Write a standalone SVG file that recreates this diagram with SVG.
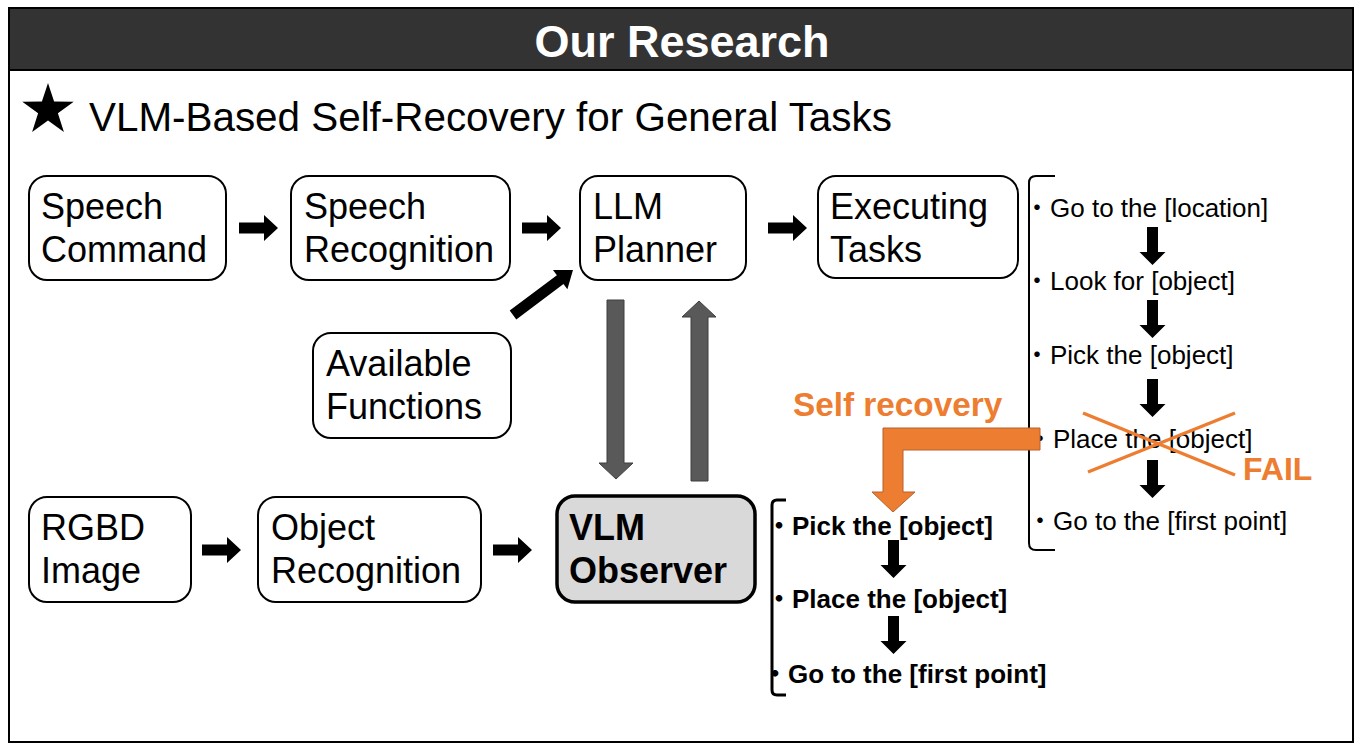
<svg xmlns="http://www.w3.org/2000/svg" width="1361" height="749" viewBox="0 0 1361 749">
<style>
text{font-family:"Liberation Sans",Arial,"Noto Sans CJK JP",sans-serif;fill:#000}
.box{fill:#fff;stroke:#000;stroke-width:2}
.lbl{font-size:36px}
.li{font-size:26px}
.lb{font-size:26px;font-weight:bold}
.org{fill:#ED7D31;font-weight:bold}
.gray{fill:#595959;stroke:#3f3f3f;stroke-width:1}
</style>
<defs>
<path id="harr" d="M0,-5.5 H25 V-13 L39,0 L25,13 V5.5 H0 Z" fill="#000"/>
<path id="varr" d="M-5.5,0 H5.5 V25 H13 L0,38 L-13,25 H-5.5 Z" fill="#000"/>
</defs>
<rect x="0" y="0" width="1361" height="749" fill="#fff"/>
<g id="frame">
<rect x="9" y="8" width="1344" height="734" fill="#fff" stroke="#000" stroke-width="2"/>
<rect x="9" y="8" width="1344" height="62" fill="#333333" stroke="#000" stroke-width="2"/>
<text x="682" y="57" text-anchor="middle" style="font-size:45px;font-weight:bold;fill:#fff">Our Research</text>
</g>
<g id="subtitle">
<polygon points="48,83 54.1,101.6 73.7,101.7 57.9,113.3 63.9,131.9 48,120.5 32.1,131.9 38.1,113.3 22.3,101.7 41.9,101.6" fill="#000"/>
<text x="89" y="131" style="font-size:40.4px">VLM-Based Self-Recovery for General Tasks</text>
</g>
<g id="speech-command"><rect class="box" x="29" y="176" width="197" height="104" rx="18"/><text class="lbl" x="41" y="219">Speech</text><text class="lbl" x="41" y="262">Command</text></g>
<g id="speech-recognition"><rect class="box" x="291" y="176" width="219" height="104" rx="18"/><text class="lbl" x="304" y="219">Speech</text><text class="lbl" x="304" y="262">Recognition</text></g>
<g id="llm-planner"><rect class="box" x="580" y="176" width="166" height="104" rx="18"/><text class="lbl" x="593" y="219">LLM</text><text class="lbl" x="593" y="262">Planner</text></g>
<g id="executing-tasks"><rect class="box" x="818" y="176" width="200" height="102" rx="18"/><text class="lbl" x="830" y="219">Executing</text><text class="lbl" x="830" y="262">Tasks</text></g>
<g id="available-functions"><rect class="box" x="313" y="333" width="198" height="105" rx="18"/><text class="lbl" x="326" y="376">Available</text><text class="lbl" x="326" y="419">Functions</text></g>
<g id="rgbd-image"><rect class="box" x="29" y="497" width="162" height="105" rx="18"/><text class="lbl" x="41" y="540">RGBD</text><text class="lbl" x="41" y="583">Image</text></g>
<g id="object-recognition"><rect class="box" x="258" y="497" width="223" height="105" rx="18"/><text class="lbl" x="271" y="540">Object</text><text class="lbl" x="271" y="583">Recognition</text></g>
<g id="vlm-observer"><rect x="557" y="496" width="198" height="106" rx="18" fill="#d9d9d9" stroke="#000" stroke-width="3.5"/><text class="lbl" x="569" y="540" font-weight="bold">VLM</text><text class="lbl" x="569" y="583" font-weight="bold">Observer</text></g>
<g id="task-list">
<path d="M1055,176 H1036 Q1029,176 1029,183 V543 Q1029,550 1036,550 H1055" fill="none" stroke="#000" stroke-width="2"/>
<text class="li" x="1024" y="217">・Go to the [location]</text>
<use href="#varr" x="1152.5" y="227"/>
<text class="li" x="1024" y="290">・Look for [object]</text>
<use href="#varr" x="1152.5" y="300"/>
<text class="li" x="1024" y="364">・Pick the [object]</text>
<use href="#varr" x="1152.5" y="379"/>
<text class="li" x="1027" y="448">・Place the [object]</text>
<use href="#varr" x="1152.5" y="460"/>
<text class="li" x="1027" y="530">・Go to the [first point]</text>
<line x1="1083" y1="413" x2="1235" y2="475" stroke="#ED7D31" stroke-width="3.5"/>
<line x1="1088" y1="472" x2="1235" y2="413" stroke="#ED7D31" stroke-width="3.5"/>
<text class="org" x="1243" y="480" style="font-size:32px">FAIL</text>
</g>
<g id="recovery-list">
<path d="M786,500 H777 Q772,500 772,505 V690 Q772,695 777,695 H786" fill="none" stroke="#000" stroke-width="3"/>
<text class="lb" x="766" y="535">・Pick the [object]</text>
<use href="#varr" x="893.5" y="540"/>
<text class="lb" x="766" y="608">・Place the [object]</text>
<use href="#varr" x="893.5" y="616"/>
<text class="lb" x="762" y="683">・Go to the [first point]</text>
</g>
<g id="self-recovery">
<text class="org" x="793" y="416" style="font-size:33.3px">Self recovery</text>
<path d="M1040,428 H883 V492 H872 L893,512 L915,492 H903 V450 H1040 Z" fill="#ED7D31" stroke="#B8602A" stroke-width="1"/>
</g>
<g id="connectors">
<use href="#harr" x="239" y="228"/>
<use href="#harr" x="522" y="228"/>
<use href="#harr" x="768" y="228"/>
<use href="#harr" x="202" y="550"/>
<use href="#harr" x="493" y="550"/>
<path d="M0,-5.5 H59 V-12 L75,0 L59,12 V5.5 H0 Z" fill="#000" transform="translate(513,315) rotate(-36.9)"/>
<polygon class="gray" points="607,300 624,300 624,463 633,463 616,479 599,463 607,463"/>
<polygon class="gray" points="691,481 708,481 708,317 716,317 699,301 682,317 691,317"/>
</g>
</svg>
